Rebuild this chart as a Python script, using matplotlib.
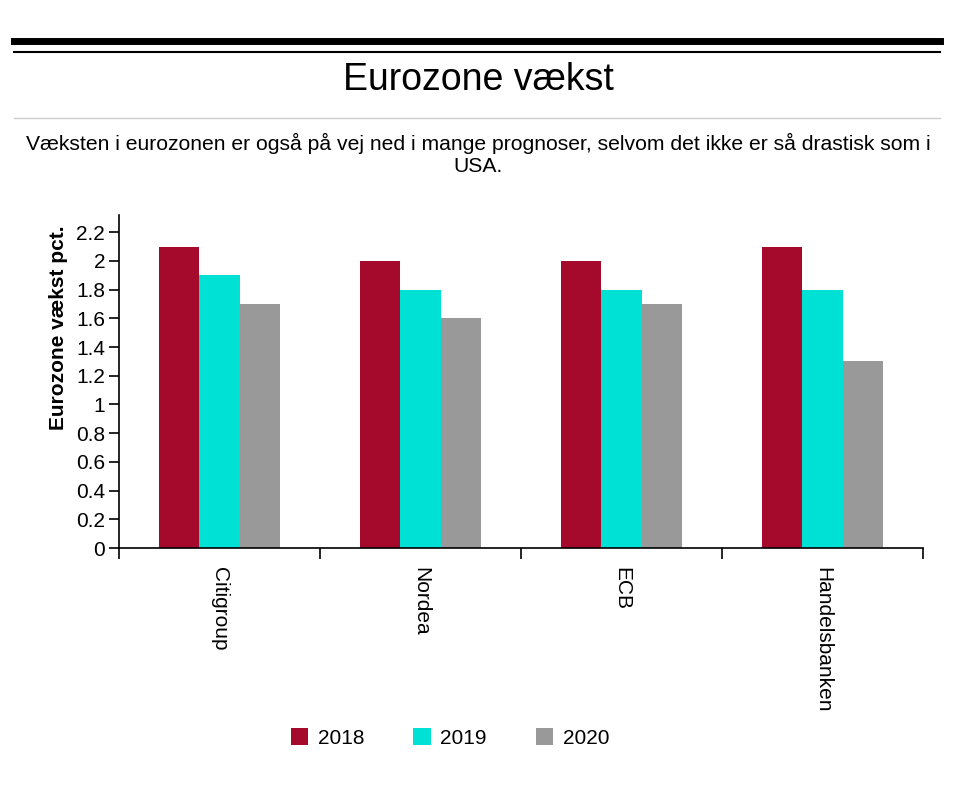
import matplotlib
matplotlib.use("Agg")
from matplotlib import pyplot as plt
from matplotlib.patches import Patch
import numpy as np

plt.rcParams["font.family"] = ["Liberation Sans", "DejaVu Sans"]

# data
banks = ["Citigroup", "Nordea", "ECB", "Handelsbanken"]
years = ["2018", "2019", "2020"]
vals_2018 = [2.1, 2.0, 2.0, 2.1]
vals_2019 = [1.9, 1.8, 1.8, 1.8]
vals_2020 = [1.7, 1.6, 1.7, 1.3]
colors = ["#A50A2D", "#00E1D6", "#999999"]
yticks = [0, 0.2, 0.4, 0.6, 0.8, 1, 1.2, 1.4, 1.6, 1.8, 2, 2.2]

W, H = 960, 786
fig = plt.figure(figsize=(W / 100, H / 100), dpi=100)

# header lines
def hline(y, lw, color):
    fig.add_artist(plt.Line2D([14 / W, 940 / W], [1 - y / H, 1 - y / H],
                              color=color, lw=lw, transform=fig.transFigure))

hline(40.5, 5.0, "black")
hline(52, 1.5, "black")
hline(118, 1.0, "#cccccc")

fig.text(478 / W, 1 - 80 / H, "Eurozone vækst", ha="center", va="center", fontsize=27)
fig.text(478 / W, 1 - 154 / H,
         "Væksten i eurozonen er også på vej ned i mange prognoser, selvom det ikke er så drastisk som i\nUSA.",
         ha="center", va="center", fontsize=15.2, linespacing=1.2)

ax = fig.add_axes([119 / W, 1 - 548 / H, (923 - 119) / W, (548 - 215) / H])

x = np.arange(len(banks))
w = 0.2
for i, (vals, c) in enumerate(zip([vals_2018, vals_2019, vals_2020], colors)):
    ax.bar(x + (i - 1) * w, vals, width=w, color=c)

ax.set_xlim(-0.5, len(banks) - 0.5)
ax.set_ylim(0, 2.32)
ax.set_yticks(yticks)
ax.set_yticklabels([("%g" % t) for t in yticks], fontsize=15)
ax.set_xticks(np.arange(len(banks) + 1) - 0.5)
ax.set_xticklabels([])
ax.set_xticks(x, minor=True)
ax.set_xticklabels(banks, minor=True, rotation=-90, fontsize=15, va="top")
ax.tick_params(axis="x", which="minor", length=0, pad=14)
ax.tick_params(axis="x", which="major", length=8, width=1.2)
ax.tick_params(axis="y", length=7, width=1.2, pad=3)
for s in ["top", "right"]:
    ax.spines[s].set_visible(False)
for s in ["left", "bottom"]:
    ax.spines[s].set_linewidth(1.2)
ax.set_ylabel("Eurozone vækst pct.", fontsize=15, fontweight="bold")
ax.yaxis.set_label_coords((68 - 119) / 804, (548 - 328) / 333)

handles = [Patch(facecolor=c, label=y) for c, y in zip(colors, years)]
fig.legend(handles=handles, loc="center", bbox_to_anchor=(450 / W, 1 - 738 / H),
           ncol=3, frameon=False, fontsize=15, handlelength=0.85, handleheight=0.85,
           handletextpad=0.45, columnspacing=2.35)

plt.savefig("out.png", dpi=100)
